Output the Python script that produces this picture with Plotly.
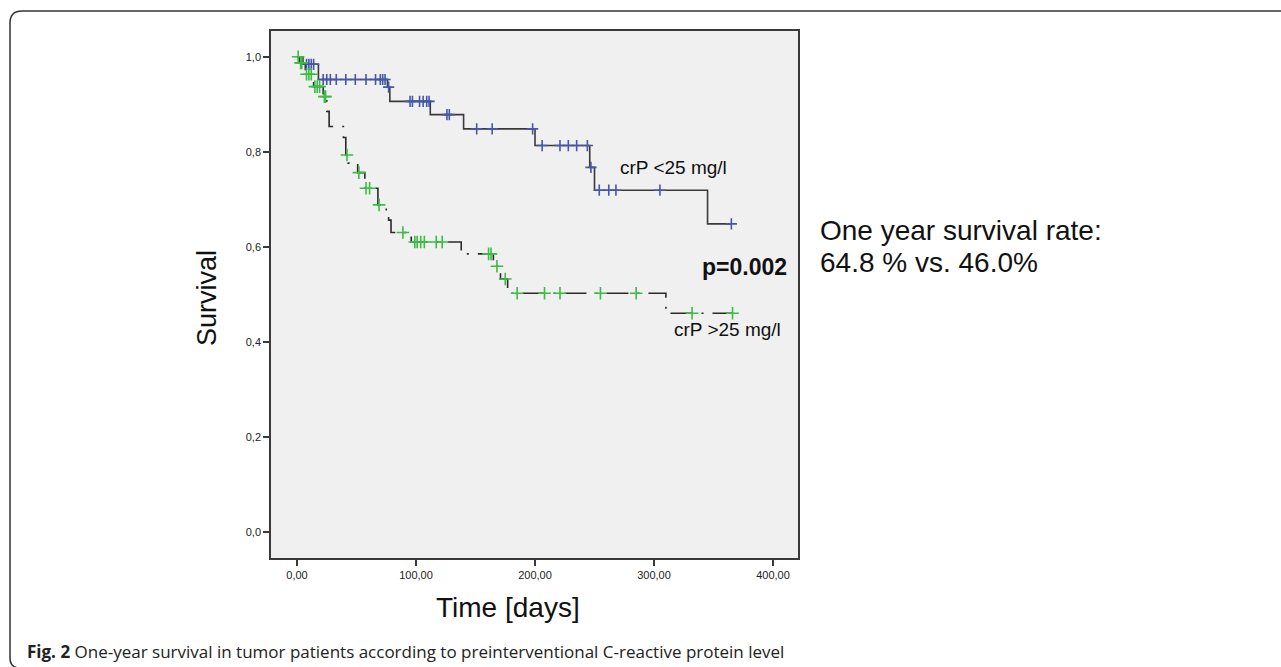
import numpy as np
import plotly.graph_objects as go

W, H = 1281, 667

# ---- data: group crP < 25 mg/l ----
low_step_days = [0, 5, 18, 76, 78, 112, 140, 200, 246, 250, 345, 365]
low_step_surv = [1.0, 0.984, 0.952, 0.936, 0.906, 0.878, 0.848, 0.813, 0.767, 0.719, 0.648, 0.648]
low_censor_days = [8, 10, 12, 14, 22, 25, 28, 33, 41, 49, 58, 66, 70, 72, 74, 77,
                   95, 97, 103, 106, 109, 111, 126, 128, 151, 164, 198,
                   206, 221, 228, 235, 244, 247, 254, 262, 268, 305, 365]

# ---- data: group crP > 25 mg/l ----
high_step_days = [0, 2, 7, 14, 22, 25, 27, 39, 41, 43, 51, 57, 68, 75, 77, 79, 96,
                  138, 165, 171, 177, 310, 366]
high_step_surv = [1.0, 0.987, 0.963, 0.937, 0.916, 0.885, 0.853, 0.83, 0.793, 0.776,
                  0.756, 0.723, 0.688, 0.672, 0.656, 0.63, 0.610, 0.585, 0.559, 0.532,
                  0.502, 0.46, 0.46]
high_censor_days = [1, 3, 4, 8, 10, 12, 15, 17, 19, 23, 24, 42, 52, 58, 61, 69, 89,
                    99, 101, 104, 107, 117, 122, 161, 163, 168, 175,
                    185, 208, 221, 255, 285, 332, 366]

x_ticks = [0, 100, 200, 300, 400]
x_tick_labels = ["0,00", "100,00", "200,00", "300,00", "400,00"]
y_ticks = [0, 0.2, 0.4, 0.6, 0.8, 1.0]
y_tick_labels = ["0,0", "0,2", "0,4", "0,6", "0,8", "1,0"]

label_low = "crP <25 mg/l"
label_high = "crP >25 mg/l"
p_text = "p=0.002"
side_text = ["One year survival rate:", "64.8 % vs. 46.0%"]
x_title = "Time [days]"
y_title = "Survival"
caption_bold = "Fig. 2"
caption_rest = " One-year survival in tumor patients according to preinterventional C-reactive protein level"


def surv_at(days, st, ss):
    idx = np.searchsorted(np.array(st), np.array(days), side="right") - 1
    return np.array(ss)[idx]


def px(x):
    return x / W


def py(y):
    return 1 - y / H


# plot area in pixels
L, R, T, B = 271, 798, 31, 558
x0_px, px_per_day = 297, 1.19
y0_px, px_per_unit = 531.7, 475.0

AX = "Liberation Sans, Arial, sans-serif"
BLUE = "#4656a8"
GREEN = "#3dbb45"
LINE = "#3a3a3a"

fig = go.Figure()

fig.add_trace(go.Scatter(x=low_step_days, y=low_step_surv, mode="lines",
                         line=dict(shape="hv", color=LINE, width=1.6),
                         hoverinfo="skip", showlegend=False))
fig.add_trace(go.Scatter(x=high_step_days, y=high_step_surv, mode="lines",
                         line=dict(shape="hv", color="#2a2a2a", width=1.6,
                                   dash="22px,9px,2px,9px"),
                         hoverinfo="skip", showlegend=False))
fig.add_trace(go.Scatter(x=low_censor_days,
                         y=surv_at(low_censor_days, low_step_days, low_step_surv),
                         mode="markers",
                         marker=dict(symbol="cross-thin", size=8,
                                     line=dict(width=1.6, color=BLUE)),
                         showlegend=False))
fig.add_trace(go.Scatter(x=high_censor_days,
                         y=surv_at(high_censor_days, high_step_days, high_step_surv),
                         mode="markers",
                         marker=dict(symbol="cross-thin", size=9,
                                     line=dict(width=1.6, color=GREEN)),
                         showlegend=False))

fig.update_layout(
    width=W, height=H,
    margin=dict(l=0, r=0, t=0, b=0),
    paper_bgcolor="white",
    plot_bgcolor="#f0f0f0",
    xaxis=dict(domain=[px(L), px(R)],
               range=[(L - x0_px) / px_per_day, (R - x0_px) / px_per_day],
               tickvals=x_ticks, ticktext=x_tick_labels,
               showgrid=False, zeroline=False,
               showline=True, mirror=True, linecolor=LINE, linewidth=1.5,
               ticks="outside", ticklen=6, tickwidth=1.5, tickcolor=LINE,
               tickfont=dict(family=AX, size=11, color="#222")),
    yaxis=dict(domain=[py(B), py(T)],
               range=[(y0_px - B) / px_per_unit, (y0_px - T) / px_per_unit],
               tickvals=y_ticks, ticktext=y_tick_labels,
               showgrid=False, zeroline=False,
               showline=True, mirror=True, linecolor=LINE, linewidth=1.5,
               ticks="outside", ticklen=6, tickwidth=1.5, tickcolor=LINE,
               tickfont=dict(family=AX, size=11, color="#222")),
)

ann = []


def add_text(x, y, text, size, xanchor="center", yanchor="middle",
             family=AX, angle=0, color="#111"):
    ann.append(dict(xref="paper", yref="paper", x=px(x), y=py(y), text=text,
                    showarrow=False, xanchor=xanchor, yanchor=yanchor,
                    textangle=angle,
                    font=dict(family=family, size=size, color=color)))


add_text(673, 168, label_low, 19)
add_text(727, 330, label_high, 19)
add_text(744, 267, "<b>" + p_text + "</b>", 23)
add_text(818, 230, side_text[0], 28, xanchor="left")
add_text(818, 263, side_text[1], 28, xanchor="left")
add_text(207, 298, y_title, 27, angle=-90)
add_text(508, 607, x_title, 28)
add_text(25, 651, "<b>" + caption_bold + "</b>" + caption_rest, 17, xanchor="left",
         family="Open Sans, sans-serif", color="#222")
fig.update_layout(annotations=ann)

# rounded page frame
r = 12
path = (f"M {px(1300)},{py(11)} L {px(10 + r)},{py(11)} "
        f"Q {px(10)},{py(11)} {px(10)},{py(11 + r)} "
        f"L {px(10)},{py(658)} Q {px(10)},{py(668)} {px(20)},{py(668)} "
        f"L {px(1300)},{py(668)}")
fig.add_shape(type="path", xref="paper", yref="paper", path=path,
              line=dict(color="#333", width=1.5))

fig.write_html("out.html",
               config={"displayModeBar": False},
               post_script="document.body.style.margin='0';document.body.style.overflow='hidden';")
